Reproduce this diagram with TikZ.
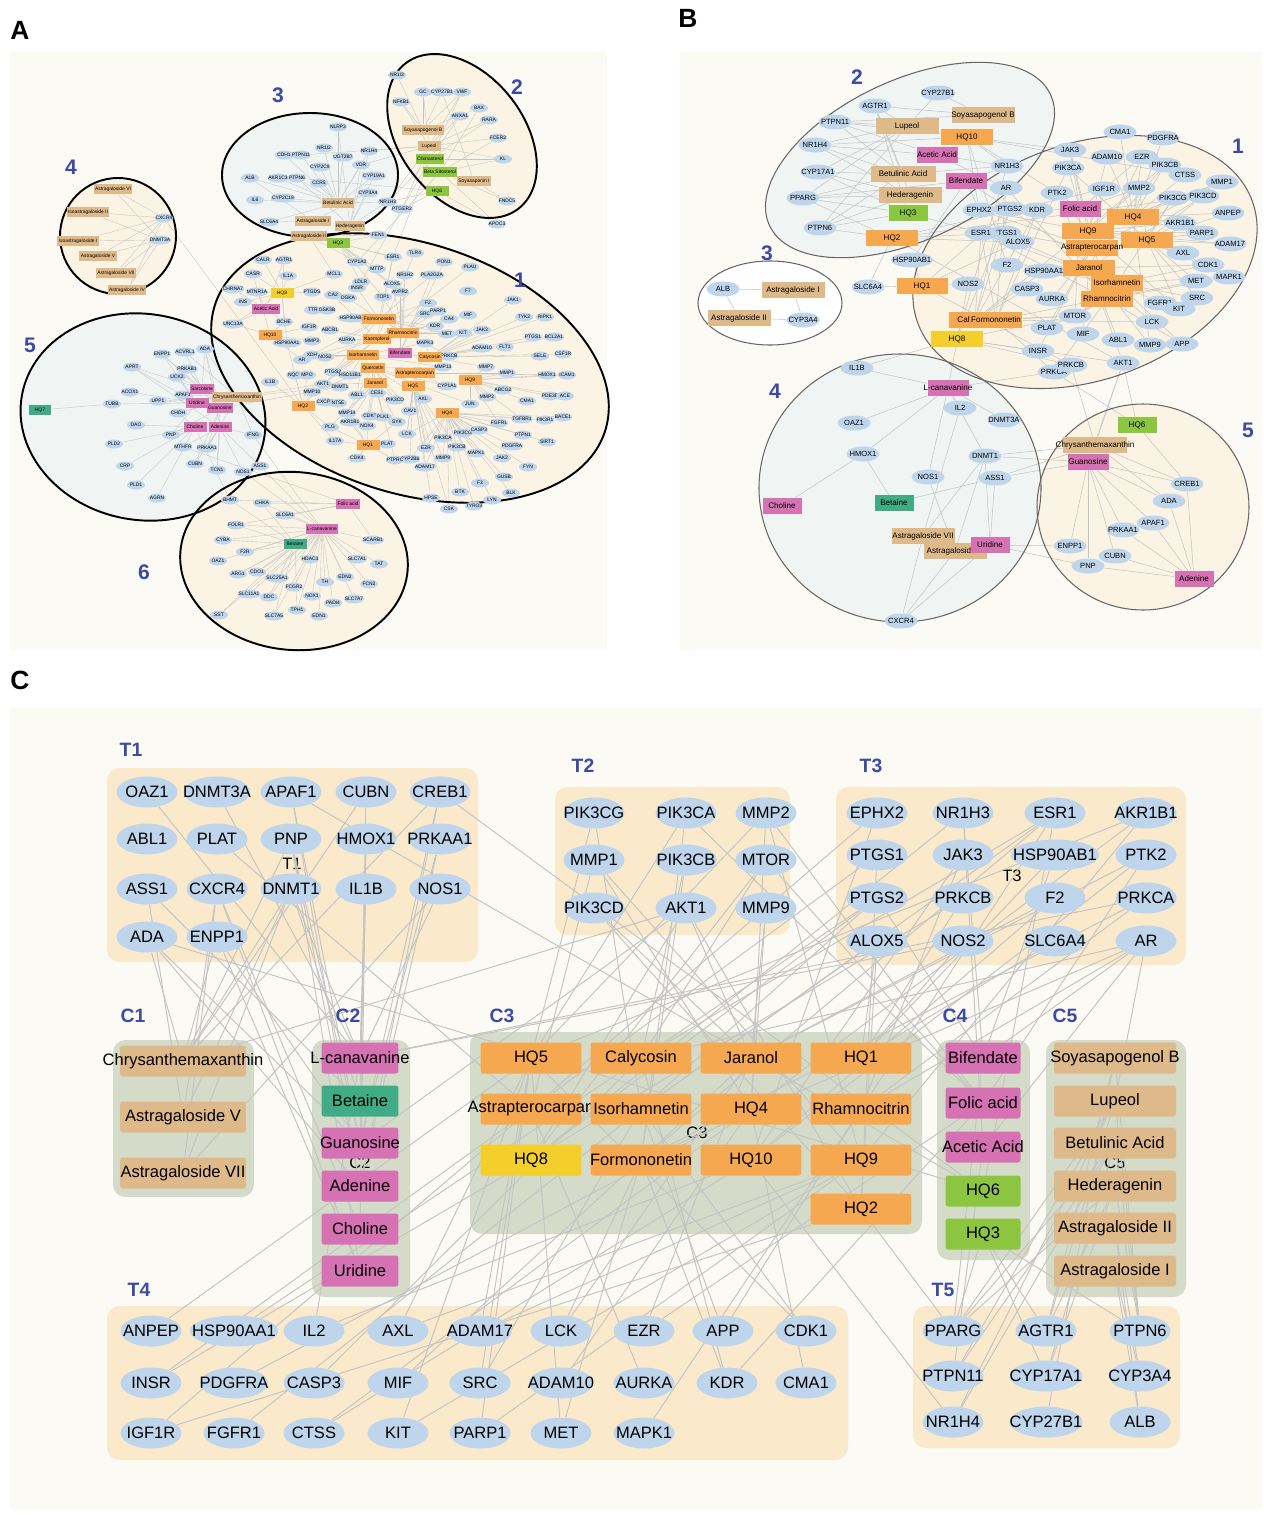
\documentclass[tikz,border=0pt]{standalone}
\usepackage{fontspec}
\setmainfont{Liberation Sans}
\usetikzlibrary{shapes.geometric}

\definecolor{tgblue}{HTML}{BFD5EB}
\definecolor{cpOrange}{HTML}{F5A84F}
\definecolor{cpTan}{HTML}{DEBA8B}
\definecolor{cpPink}{HTML}{D672B3}
\definecolor{cpGreen}{HTML}{8CC540}
\definecolor{cpTeal}{HTML}{3FAC86}
\definecolor{cpYellow}{HTML}{F4CE2B}
\definecolor{grpT}{HTML}{FAEACB}
\definecolor{grpC}{HTML}{D4DBC9}
\definecolor{panelbg}{HTML}{FCFAF4}
\definecolor{clCream}{HTML}{FBF4E4}
\definecolor{clBlue}{HTML}{F0F5F4}
\definecolor{lblblue}{HTML}{3B4BA3}
\definecolor{edgegray}{HTML}{C4C4C4}

\newcommand{\fntA}{\fontsize{2.8}{3}\selectfont}
\newcommand{\fntB}{\fontsize{4.3}{5}\selectfont}
\newcommand{\fntBc}{\fontsize{4.6}{5}\selectfont}
\newcommand{\fntC}{\fontsize{9.4}{11}\selectfont}

\pgfdeclarelayer{bg}
\pgfdeclarelayer{edges}
\pgfsetlayers{bg,edges,main}

\tikzset{
    tga/.style={ellipse, fill=tgblue, minimum width=0.36cm, minimum height=0.18cm, inner xsep=-1.2pt, inner ysep=0pt, font=\fntA},
    cpa/.style={rectangle, minimum width=0.46cm, minimum height=0.21cm, inner xsep=0.8pt, inner ysep=0pt, font=\fntA},
    tgb/.style={ellipse, fill=tgblue, minimum width=0.66cm, minimum height=0.3cm, inner xsep=-2.5pt, inner ysep=0pt, font=\fntB},
    cpb/.style={rectangle, minimum height=0.32cm, inner xsep=-4pt, inner ysep=0pt, font=\fntBc},
    tgc/.style={ellipse, fill=tgblue, minimum width=1.22cm, minimum height=0.62cm, inner xsep=-6pt, inner ysep=0pt, font=\fntC},
    cpc/.style={rectangle, rounded corners=1.5pt, minimum height=0.62cm, inner xsep=-10pt, inner ysep=0pt, font=\fntC},
    ea/.style={draw=edgegray, line width=0.2pt},
    eb/.style={draw=edgegray, line width=0.3pt},
    ec/.style={draw=edgegray, line width=0.55pt},
    clusA/.style={draw=black, line width=1.1pt},
    clusB/.style={draw=black!60, line width=0.6pt},
    grpbox/.style={rounded corners=0.25cm},
    grplbl/.style={text=lblblue, font=\bfseries\fontsize{11}{12}\selectfont},
    clbl/.style={text=lblblue, font=\bfseries\fontsize{12}{13}\selectfont},
    panel/.style={font=\bfseries\fontsize{15}{16}\selectfont},
    inlbl/.style={font=\fntC},
}

\begin{document}
\begin{tikzpicture}[x=0.02cm, y=-0.02cm]
    \useasboundingbox (0,0) rectangle (1264,1515);

    % backgrounds and cluster fills
    \begin{pgfonlayer}{bg}
        \fill[panelbg] (10,52) rectangle (607,650);
        \fill[panelbg] (680,52) rectangle (1262,650);
        \fill[panelbg] (10,708) rectangle (1262,1510);
        % A
        \fill[clCream, rotate around={-18:(410,368)}] (410,368) ellipse [x radius=205, y radius=125];
        \fill[clCream, rotate around={-52:(462,136)}] (462,136) ellipse [x radius=92, y radius=62];
        \fill[clBlue] (310,175) ellipse [x radius=88, y radius=62];
        \fill[clCream] (118,236) circle [radius=58];
        \fill[clBlue, rotate around={-10:(143,417)}] (143,417) ellipse [x radius=123, y radius=103];
        \fill[clCream, rotate around={-5:(294,561)}] (294,561) ellipse [x radius=114, y radius=89];
        % B
        \fill[clCream, rotate around={20:(1085,262)}] (1085,262) ellipse [x radius=178, y radius=118];
        \fill[clBlue, rotate around={25:(910,160)}] (910,160) ellipse [x radius=155, y radius=80];
        \fill[white] (770,303) ellipse [x radius=72, y radius=42];
        \fill[clBlue] (900,488) ellipse [x radius=141, y radius=134];
        \fill[clCream] (1143,507) ellipse [x radius=106, y radius=103];
        % C groups
        \fill[grpT, grpbox] (107,768) rectangle (478,962);
        \fill[grpT, grpbox] (555,787) rectangle (790,935);
        \fill[grpT, grpbox] (836,787) rectangle (1186,965);
        \fill[grpC, grpbox] (113,1040) rectangle (254,1197);
        \fill[grpC, grpbox] (312,1040) rectangle (410,1297);
        \fill[grpC, grpbox] (470,1032) rectangle (922,1234);
        \fill[grpC, grpbox] (937,1040) rectangle (1030,1260);
        \fill[grpC, grpbox] (1046,1040) rectangle (1186,1297);
        \fill[grpT, grpbox] (107,1306) rectangle (848,1460);
        \fill[grpT, grpbox] (913,1306) rectangle (1180,1448);
    \end{pgfonlayer}

    % panel letters
    \node[panel] (pA) at (20,30) {A};
    \node[panel] (pB) at (688,18) {B};
    \node[panel] (pC) at (20,680) {C};

    % ---------------- panel A ----------------
    \draw[clusA, rotate around={-18:(410,368)}] (410,368) ellipse [x radius=205, y radius=125];
    \draw[clusA, rotate around={-52:(462,136)}] (462,136) ellipse [x radius=92, y radius=62];
    \draw[clusA] (310,175) ellipse [x radius=88, y radius=62];
    \draw[clusA] (118,236) circle [radius=58];
    \draw[clusA, rotate around={-10:(143,417)}] (143,417) ellipse [x radius=123, y radius=103];
    \draw[clusA, rotate around={-5:(294,561)}] (294,561) ellipse [x radius=114, y radius=89];
    \foreach \nm/\px/\py in {1/520/280, 2/517/87, 3/278/95, 4/71/167, 5/30/345, 6/144/572}
        \node[clbl] (A-l\nm) at (\px,\py) {\nm};

    \foreach \nm/\px/\py in {CXCR4/164/218, DNMT3A/160/240,
        NLRP3/338/127, CDH1/284/155, PTPN11/301/155, NR1I2/324/148, UGT2B7/343/157, NR1H4/369/151,
        CYP2C9/320/167, VDR/361/165, ALB/250/178, AKR1C3/278/178, PTPN6/297/178, CCR5/319/183,
        CYP19A1/374/176, IL6/255/200, CYP2C19/283/198, CYP3A4/368/193, NR3C1/387/202, SLC6A4/269/222,
        NR1I3/397/75, GC/423/92, CYP27B1/442/92, VWF/462/92, NFKB1/401/102, BAX/479/108, ANXA1/460/116,
        RARA/489/120, FCER2/498/138, KL/503/159, NR1H3/388/202, PTGER2/402/209, FNDC5/507/201, APOC3/497/224,
        FEN1/378/235, CALR/263/260, AGTR1/284/260, CYP1A2/357/262, ESR1/393/257, CASR/253/274, MTTP/377/269,
        IL1A/288/276, MCL1/334/274, LDLR/361/282, ALOX5/392/284, CHRNA7/233/289, MTNR1A/257/292,
        PTGDS/312/292, CA2/333/295, INSR/357/288, DGKA/348/298, TOP1/383/297, AVPR2/400/292, INS/243/302,
        TTR/313/310, GSK3B/327/310, HSP90AB1/352/318, BCHE/284/322, UNC13A/233/324, IGF1R/309/327,
        ABCB1/330/330, HSP90AA1/287/343, MMP3/312/341, AURKA/347/340, AR/302/360, XDH/312/355, NOS2/325/357,
        TLR4/415/253, PON1/444/262, PLAU/470/267, NR1H2/405/275, PLA2G2A/432/275, F7/468/291, F2/428/303,
        JAK1/513/300, SRC/425/314, PARP1/438/311, CA4/449/319, MIF/468/315, TYK2/524/317, RIPK1/545/317,
        KDR/435/326, MET/447/334, KIT/463/333, JAK3/482/330, PTGS1/533/337, BCL2A1/554/337, MAPK3/425/343,
        ADAM10/482/348, FLT1/505/347, SELE/540/356, CSF1R/563/354, PRKCB/449/356, MMP7/486/367,
        MMP13/443/367, MMP1/507/373, HMOX1/547/375, ICAM1/567/375, CYP1A1/447/386, ABCG2/503/390,
        MMP2/487/397, CMA1/527/401, PDE3B/550/396, ACE/565/396, AXL/423/399, JUN/470/404, CAV1/410/411,
        FGFR1/499/423, TGFBR1/522/419, PIK3R1/545/420, BACE1/563/417, LCK/407/434, PIK3CG/463/433,
        CASP3/479/430, PIK3CA/443/438, PTPN1/523/435, SIRT1/547/442, EZR/426/448, PIK3CB/457/447,
        MAPK1/476/453, PDGFRA/512/446, CYP2B6/410/459, ADAM17/425/467, MMP9/443/458, JAK2/502/458,
        FYN/528/467, F3/480/483, GUSB/504/477, BTK/460/492, BLK/511/493, HPSE/431/498, LYN/492/500,
        CSK/449/509, TYRO3/474/506,
        NQO1/295/375, MPO/307/375, PTGS2/333/372, HSD11B1/350/375, IL1B/270/382, AKT1/323/384,
        DNMT1/340/387, MMP10/312/392, ABL1/357/395, CES1/377/393, PIK3CD/395/400, CXCR1/325/402,
        NT5E/338/403, MMP14/347/413, CDK2/370/416, PLK1/383/417, AKR1B1/350/422, NOX4/367/426, SYK/397/422,
        PLG/330/427, IL17A/335/441, PLAT/387/444, CDK4/357/458, PTPRC/395/460,
        ENPP1/162/354, ACVRL1/185/352, ADA/205/349, APRT/132/367, PRKAB1/187/369, UCK2/177/377,
        ACOX1/130/392, APAF1/183/395, TUBB/112/404, UPP1/158/401, CHDH/178/413, DAO/136/425, PNP/171/435,
        IFNG/253/435, PLD2/114/444, MTHFR/183/447, PRKAA1/207/448, CRP/125/466, CUBN/195/464, TCN1/217/470,
        NOS1/243/472, ASS1/260/466, PLD1/136/485, AGRN/157/498, BHMT/230/500,
        CHKA/262/503, SLC6A1/285/515, FOLR1/236/525, CYBA/223/540, SCARB1/373/540, F2R/245/552,
        OAZ1/218/561, HDAC3/310/559, SLC7A1/357/559, TAT/379/564, ARG1/238/574, CDO1/257/572,
        SLC25A1/277/578, TH/325/582, EDN2/345/577, FCN2/369/584, FCGR2/294/587, SLC11A1/249/594,
        DDC/269/597, NOX1/312/596, PADI4/333/603, SLC7A7/354/599, SST/219/615, SLC7A5/274/616,
        TPH1/297/610, EDN1/319/616}
        \node[tga] (A-\nm) at (\px,\py) {\nm};

    \foreach \nm/\px/\py/\lb/\col in {asvi/113/189/Astragaloside VI/cpTan, isoii/88/212/Isoastragaloside II/cpTan,
        isoi/78/241/Isoastragaloside I/cpTan, asv/98/256/Astragaloside V/cpTan, asvii/116/273/Astragaloside VII/cpTan,
        asiv/127/290/Astragaloside IV/cpTan, bta/338/203/Betulinic Acid/cpTan, asi/313/221/Astragaloside I/cpTan,
        hed/350/226/Hederagenin/cpTan, soyb/423/130/Soyasapogenol B/cpTan, lup/429/146/Lupeol/cpTan,
        cli/430/159/Clionasterol/cpGreen, bsit/440/172/Beta Sitosterol/cpGreen, soyi/474/181/Soyasaponin I/cpTan,
        hq6/437/191/HQ6/cpGreen, asii/309/236/Astragaloside II/cpTan, hq3/338/243/HQ3/cpGreen,
        hq8/282/293/HQ8/cpYellow, ace/266/309/Acetic Acid/cpPink, form/379/319/Formononetin/cpOrange,
        rham/403/333/Rhamnocitrin/cpOrange, hq10/270/335/HQ10/cpOrange, kae/377/339/Kaempferol/cpOrange,
        bif/400/353/Bifendate/cpPink, iso/363/355/Isorhamnetin/cpOrange, cal/430/357/Calycosin/cpOrange,
        que/373/368/Quercetin/cpOrange, astr/415/373/Astrapterocarpan/cpOrange, jar/375/383/Jaranol/cpOrange,
        hq9/470/380/HQ9/cpOrange, hq5/413/386/HQ5/cpOrange, hq4/447/413/HQ4/cpOrange, hq2/303/406/HQ2/cpOrange,
        hq1/368/445/HQ1/cpOrange, sar/202/389/Sarcosine/cpPink, chry/237/397/Chrysanthemaxanthin/cpTan,
        hq7/40/410/HQ7/cpTeal, uri/197/403/Uridine/cpPink, gua/220/408/Guanosine/cpPink, cho/195/427/Choline/cpPink,
        ade/220/427/Adenine/cpPink, fol/348/504/Folic acid/cpPink, lc/322/529/L-canavanine/cpPink,
        betn/295/544/Betaine/cpTeal}
        \node[cpa, fill=\col] (A-\nm) at (\px,\py) {\lb};

    \begin{pgfonlayer}{edges}
        \foreach \src/\tgts in {asvi/{CXCR4,DNMT3A}, isoii/{CXCR4,DNMT3A}, isoi/{CXCR4,DNMT3A},
            asv/{CXCR4,DNMT3A}, asvii/{CXCR4,DNMT3A}, asiv/{CXCR4,DNMT3A},
            bta/{NLRP3,CDH1,PTPN11,NR1I2,UGT2B7,NR1H4,CYP2C9,VDR,ALB,AKR1C3,PTPN6,CCR5,CYP19A1,IL6,CYP2C19,CYP3A4,NR3C1,SLC6A4},
            asi/{ALB,CYP3A4,SLC6A4}, hed/{NLRP3,PTPN6,CYP3A4,NR1H4,VDR,CYP19A1,NR3C1},
            soyb/{NR1I3,GC,CYP27B1,VWF,NFKB1,BAX},
            lup/{ANXA1,RARA,NFKB1,GC,FCER2,KL,NR1H3,PTGER2,VWF,VDR,NR1H4,PTPN11},
            cli/{VWF,ANXA1,RARA,KL,NR1H3,ESR1,LDLR}, bsit/{BAX,FCER2,KL,FNDC5,APOC3,CYP1A2},
            soyi/{CYP27B1,FNDC5}, hq6/{NR1H3,PTGER2,APOC3,PTPN6},
            hq8/{CALR,AGTR1,CASR,IL1A,CHRNA7,MTNR1A,INS,BCHE,UNC13A,PTGDS,MCL1,HSP90AA1},
            ace/{INS,UNC13A,MTNR1A,CHRNA7,BCHE,AGTR1}, hq10/{BCHE,IGF1R,HSP90AA1,MMP3,UNC13A,CASR,AR},
            asii/{CYP1A2,ESR1,FEN1,MCL1}, hq3/{FEN1,ESR1,MTTP,CYP1A2,LDLR,ALOX5,TOP1,AVPR2},
            form/{ESR1,INSR,DGKA,HSP90AB1,AURKA,PRKCB,AR,PTGS2,PLA2G2A,F2,SRC,KDR,MET,MAPK3},
            rham/{F2,SRC,PARP1,CA4,MIF,KIT,JAK3,ALOX5,TOP1,AVPR2,NR1H2},
            kae/{AURKA,ABCB1,XDH,NOS2,PTGS2,AKT1,ESR1,CA2,PLAU,TLR4}, bif/{PON1,PLA2G2A,NR1H2,AVPR2},
            iso/{XDH,NOS2,AKT1,PTGS2,HSD11B1,ABL1,MAPK3,PRKCB,MMP13},
            que/{HSD11B1,CES1,PIK3CD,CDK2,PLK1,MMP14,JUN,CAV1,AXL,CYP1A1,MMP13,NOX4,MMP10},
            cal/{PRKCB,MAPK3,MMP7,ADAM10,FLT1,JAK3,KIT,TYK2,RIPK1,JAK1,PTGS1,BCL2A1,SELE,CSF1R},
            astr/{MMP13,CYP1A1,AXL,CAV1,LCK,EZR,MMP1,HMOX1,ICAM1},
            jar/{AKT1,ABL1,CES1,PIK3CD,MMP14,CDK2,PLK1,AKR1B1,PLG,SYK,PTPRC},
            hq9/{MMP7,MMP1,ABCG2,MMP2,CMA1,PDE3B,ACE,HMOX1,ICAM1,JUN,TGFBR1,FGFR1},
            hq5/{AXL,CAV1,LCK,EZR,CYP2B6,ADAM17,PIK3CA,PIK3CB,MMP9,HPSE,CSK},
            hq4/{FGFR1,TGFBR1,PIK3R1,BACE1,PIK3CG,CASP3,PTPN1,SIRT1,PDGFRA,MAPK1,JAK2,FYN,F3,GUSB,BTK,BLK,LYN,TYRO3,CSK,PIK3CB,MMP9,ADAM17,EZR,LCK,CYP2B6},
            hq2/{NQO1,MPO,IL1B,AKT1,MMP10,CXCR1,NT5E,PLG,IL17A,CXCR4,HSP90AA1},
            hq1/{PLAT,CDK4,PTPRC,IL17A,NOX4,AKR1B1,PLG,SYK,MMP14},
            sar/{ACVRL1,ADA,PRKAB1,UCK2,APRT,ENPP1}, chry/{APAF1,UPP1,CHDH,ADA,ACVRL1,PRKAA1,IFNG,AKT1,DNMT1},
            hq7/{TUBB}, uri/{UPP1,UCK2,TUBB,ACOX1,APRT,ENPP1,PNP,CHDH},
            gua/{ADA,PNP,ENPP1,APAF1,PRKAB1,CUBN,PRKAA1,TCN1,DNMT1},
            cho/{CHDH,DAO,PLD2,PLD1,PNP,CRP,BHMT,AGRN},
            ade/{ADA,APRT,PNP,MTHFR,PRKAA1,CUBN,TCN1,IFNG,ASS1,NOS1},
            fol/{CHKA,SLC6A1,FOLR1,BHMT,SCARB1,MTHFR},
            lc/{CHKA,SLC6A1,FOLR1,CYBA,SCARB1,F2R,OAZ1,HDAC3,SLC7A1,TAT,ARG1,CDO1,SLC25A1,TH,EDN2,FCN2,FCGR2,SLC11A1,DDC,NOX1,PADI4,SLC7A7,SST,SLC7A5,TPH1,EDN1,ASS1,NOS1,IFNG},
            betn/{BHMT,CHKA,FOLR1,CYBA,F2R,ARG1,DDC,SST,SLC7A5,TPH1,CDO1}}
            {\foreach \tg in \tgts {\draw[ea] (A-\src) -- (A-\tg);}}
    \end{pgfonlayer}

    % ---------------- panel B ----------------
    \draw[clusB, rotate around={20:(1085,262)}] (1085,262) ellipse [x radius=178, y radius=118];
    \draw[clusB, rotate around={25:(910,160)}] (910,160) ellipse [x radius=155, y radius=80];
    \draw[clusB] (770,303) ellipse [x radius=72, y radius=42];
    \draw[clusB] (900,488) ellipse [x radius=141, y radius=134];
    \draw[clusB] (1143,507) ellipse [x radius=106, y radius=103];
    \foreach \nm/\px/\py in {1/1238/146, 2/857/77, 3/767/253, 4/775/391, 5/1248/430}
        \node[clbl] (B-l\nm) at (\px,\py) {\nm};

    \foreach \nm/\px/\py in {CYP27B1/938/93, AGTR1/875/106, PTPN11/835/122, NR1H4/815/145, CYP17A1/818/172,
        PPARG/803/198, PTPN6/820/228, HSP90AB1/912/260, SLC6A4/868/287, NOS2/968/284, ALB/723/289, CYP3A4/803/320,
        CMA1/1120/132, PDGFRA/1163/138, JAK3/1070/150, ADAM10/1107/157, EZR/1142/157, PIK3CB/1165/165,
        PIK3CA/1068/168, NR1H3/1007/166, CTSS/1185/175, MMP1/1222/182, AR/1006/188, PTK2/1057/193,
        IGF1R/1104/189, MMP2/1139/188, PIK3CG/1173/198, PIK3CD/1203/196, PTGS2/1010/209, EPHX2/979/210,
        KDR/1037/210, ANPEP/1228/213, AKR1B1/1180/223, PTGS1/1005/233, ESR1/981/233, ALOX5/1018/242,
        PARP1/1202/233, ADAM17/1230/244, AXL/1183/253, F2/1007/265, HSP90AA1/1044/271, CDK1/1208/265,
        MAPK1/1229/277, MET/1196/281, CASP3/1027/289, AURKA/1052/299, FGFR1/1160/303, SRC/1197/298,
        KIT/1179/309, MTOR/1075/316, LCK/1152/322, PLAT/1047/328, MIF/1083/334, ABL1/1118/340, MMP9/1150/345,
        APP/1182/344, INSR/1038/351, PRKCA/1054/372, PRKCB/1071/365, AKT1/1123/363,
        IL1B/857/368, IL2/960/408, OAZ1/854/423, DNMT3A/1004/420, HMOX1/863/454, DNMT1/985/456,
        NOS1/928/477, ASS1/995/478, CREB1/1187/484, ADA/1169/501, APAF1/1153/523, PRKAA1/1123/530,
        ENPP1/1070/546, CUBN/1115/556, PNP/1088/566, CXCR4/901/621}
        \node[tgb] (B-\nm) at (\px,\py) {\nm};

    \foreach \nm/\px/\py/\lb/\col/\w in {lup/907/126/Lupeol/cpTan/1.26, soyb/983/115/Soyasapogenol B/cpTan/1.26,
        hq10/967/137/HQ10/cpOrange/1.04, ace/937/155/Acetic Acid/cpPink/0.82, bta/903/174/Betulinic Acid/cpTan/1.3,
        bif/966/181/Bifendate/cpPink/0.82, hed/910/195/Hederagenin/cpTan/1.26, hq3/908/213/HQ3/cpGreen/0.78,
        hq2/892/238/HQ2/cpOrange/1.04, hq1/922/286/HQ1/cpOrange/1.02, asi/793/290/Astragaloside I/cpTan/1.26,
        asii/739/318/Astragaloside II/cpTan/1.26, cal/975/320/Calycosin/cpOrange/1.04,
        form/996/320/Formononetin/cpOrange/1.04, hq8/957/339/HQ8/cpYellow/1.04, fol/1080/209/Folic acid/cpPink/0.82,
        hq4/1133/217/HQ4/cpOrange/1.04, hq9/1088/231/HQ9/cpOrange/1.04, hq5/1147/240/HQ5/cpOrange/1.04,
        astr/1092/248/Astrapterocarpan/cpOrange/1.04, jar/1089/268/Jaranol/cpOrange/1.04,
        iso/1117/283/Isorhamnetin/cpOrange/1.04, rham/1107/299/Rhamnocitrin/cpOrange/1.04,
        lc/948/388/L-canavanine/cpPink/0.82, hq6/1137/425/HQ6/cpGreen/0.78,
        chry/1095/445/Chrysanthemaxanthin/cpTan/1.26, gua/1088/462/Guanosine/cpPink/0.82,
        betn/894/503/Betaine/cpTeal/0.78, cho/782/506/Choline/cpPink/0.78,
        asvii/923/536/Astragaloside VII/cpTan/1.26, asv/955/551/Astragaloside V/cpTan/1.26,
        uri/990/545/Uridine/cpPink/0.78, ade/1194/579/Adenine/cpPink/0.78}
        \node[cpb, fill=\col, minimum width=\w cm] (B-\nm) at (\px,\py) {\lb};

    \begin{pgfonlayer}{edges}
        \foreach \src/\tgts in {lup/{PTPN11,AGTR1,NR1H4,CYP17A1,PPARG,PTPN6,CYP27B1},
            bta/{PTPN11,NR1H4,CYP17A1,PPARG,PTPN6,AGTR1,NR1H3}, hed/{CYP17A1,PPARG,PTPN6,NR1H4,AGTR1},
            soyb/{CYP27B1,AGTR1,PTPN11}, hq10/{PTPN11,NR1H4,PTK2,JAK3,F2,EPHX2,NR1H3,CTSS},
            ace/{PTPN11,NR1H3,AR,NR1H4}, bif/{NR1H3,AR,PTGS2,HSP90AB1,PPARG,EPHX2},
            hq3/{PPARG,PTPN6,AGTR1,CYP17A1,ESR1}, hq2/{PTPN6,PPARG,AKT1,PIK3CD,ALOX5,PTGS1,IGF1R,SLC6A4},
            asi/{ALB,CYP3A4}, asii/{ALB,CYP3A4}, hq1/{SLC6A4,HSP90AB1,NOS2,ALOX5,PRKCB,PTGS2},
            cal/{ESR1,AR,PTGS2,HSP90AA1,CASP3,KDR,PIK3CB,MTOR}, form/{PIK3CA,ESR1,AR,PRKCA,KDR,MET,LCK,MTOR},
            hq8/{AKT1,MTOR,PTGS2,NR1H3,INSR,PRKCB,IL1B}, fol/{PTK2,PIK3CA,MTOR,KDR,EZR,MMP2,JAK3,IGF1R},
            hq4/{MMP2,MMP1,CTSS,AKR1B1,PDGFRA,CMA1,ADAM10,MMP9,PIK3CB,PIK3CG,EZR,ANPEP},
            hq9/{MMP1,MMP2,AXL,ADAM17,KIT,PARP1,AKR1B1,PTK2,IGF1R,JAK3,ADAM10,EPHX2},
            hq5/{PIK3CG,PIK3CA,MMP2,AKR1B1,ANPEP,ADAM17,AXL,CDK1,PARP1,KIT,SRC,MET,PIK3CD,MAPK1},
            astr/{MMP1,PTGS1,EPHX2,IGF1R,AURKA,PLAT,INSR,PIK3CB},
            jar/{PIK3CD,AKT1,MMP9,PTK2,F2,EZR,MIF,LCK,ABL1,CDK1},
            iso/{PIK3CG,ALOX5,ESR1,PTGS2,CDK1,APP,FGFR1,SRC,MAPK1,HSP90AA1},
            rham/{AR,ESR1,PRKCA,JAK3,APP,MAPK1,MTOR,PLAT},
            lc/{IL1B,OAZ1,HMOX1,IL2,DNMT3A,DNMT1,NOS1,NOS2,PRKCA}, betn/{HMOX1,ASS1}, cho/{HMOX1},
            asvii/{CXCR4,DNMT1,IL2}, asv/{CXCR4,DNMT1,NOS1}, uri/{CXCR4,PNP,ENPP1,DNMT1,ASS1},
            chry/{DNMT1,ASS1,CREB1,ADA,AKT1,PRKCB}, gua/{ADA,PNP,ENPP1,CUBN,APAF1,CREB1,PRKAA1,AKT1,DNMT1,ASS1},
            ade/{ADA,PNP,APAF1,CREB1,PRKAA1,CUBN}, hq6/{AKT1,CREB1,PRKCA}}
            {\foreach \tg in \tgts {\draw[eb] (B-\src) -- (B-\tg);}}
    \end{pgfonlayer}

    % ---------------- panel C ----------------
    \foreach \nm/\px/\py in {T1/131/750, T2/583/766, T3/871/766, C1/133/1016, C2/348/1016, C3/502/1016,
        C4/955/1016, C5/1065/1016, T4/139/1290, T5/943/1290}
        \node[grplbl] (C-l\nm) at (\px,\py) {\nm};

    \foreach \nm/\px/\py in {OAZ1/147/792, DNMT3A/217/792, APAF1/291/792, CUBN/366/792, CREB1/440/792,
        ABL1/147/839, PLAT/217/839, PNP/291/839, HMOX1/366/839, PRKAA1/440/839,
        ASS1/147/889, CXCR4/217/889, DNMT1/291/889, IL1B/366/889, NOS1/440/889, ADA/147/937, ENPP1/217/937,
        PIK3CG/594/813, PIK3CA/686/813, MMP2/766/813, MMP1/594/860, PIK3CB/686/860, MTOR/766/860,
        PIK3CD/594/908, AKT1/686/908, MMP9/766/908,
        EPHX2/877/813, NR1H3/963/813, ESR1/1055/813, AKR1B1/1146/813, PTGS1/877/855, JAK3/963/855,
        HSP90AB1/1055/855, PTK2/1146/855, PTGS2/877/898, PRKCB/963/898, F2/1055/898, PRKCA/1146/898,
        ALOX5/877/941, NOS2/963/941, SLC6A4/1055/941, AR/1146/941,
        ANPEP/151/1331, HSP90AA1/234/1331, IL2/314/1331, AXL/398/1331, ADAM17/480/1331, LCK/561/1331,
        EZR/644/1331, APP/723/1331, CDK1/806/1331, INSR/151/1383, PDGFRA/234/1383, CASP3/314/1383,
        MIF/398/1383, SRC/480/1383, ADAM10/561/1383, AURKA/644/1383, KDR/727/1383, CMA1/806/1383,
        IGF1R/151/1433, FGFR1/234/1433, CTSS/314/1433, KIT/398/1433, PARP1/480/1433, MET/561/1433,
        MAPK1/644/1433,
        PPARG/953/1331, AGTR1/1046/1331, PTPN6/1140/1331, PTPN11/953/1376, CYP17A1/1046/1376,
        CYP3A4/1140/1376, NR1H4/953/1422, CYP27B1/1046/1422, ALB/1140/1422}
        \node[tgc] (C-\nm) at (\px,\py) {\nm};

    \foreach \nm/\px/\py/\lb/\col/\w in {chry/183/1061/Chrysanthemaxanthin/cpTan/2.52,
        asv/183/1117/Astragaloside V/cpTan/2.52, asvii/183/1173/Astragaloside VII/cpTan/2.52,
        lc/360/1058/L-canavanine/cpPink/1.54, betn/360/1101/Betaine/cpTeal/1.54, gua/360/1143/Guanosine/cpPink/1.54,
        ade/360/1186/Adenine/cpPink/1.54, cho/360/1229/Choline/cpPink/1.54, uri/360/1271/Uridine/cpPink/1.54,
        hq5/531/1058/HQ5/cpOrange/2.02, cal/641/1058/Calycosin/cpOrange/2.02, jar/751/1058/Jaranol/cpOrange/2.02,
        hq1/861/1058/HQ1/cpOrange/2.02, astr/531/1109/Astrapterocarpan/cpOrange/2.02,
        iso/641/1109/Isorhamnetin/cpOrange/2.02, hq4/751/1109/HQ4/cpOrange/2.02,
        rham/861/1109/Rhamnocitrin/cpOrange/2.02, hq8/531/1160/HQ8/cpYellow/2.02,
        form/641/1160/Formononetin/cpOrange/2.02, hq10/751/1160/HQ10/cpOrange/2.02, hq9/861/1160/HQ9/cpOrange/2.02,
        hq2/861/1209/HQ2/cpOrange/2.02,
        bif/983/1058/Bifendate/cpPink/1.5, fol/983/1103/Folic acid/cpPink/1.5, ace/983/1147/Acetic Acid/cpPink/1.5,
        hq6/983/1191/HQ6/cpGreen/1.5, hq3/983/1234/HQ3/cpGreen/1.5,
        soyb/1115/1058/Soyasapogenol B/cpTan/2.44, lup/1115/1101/Lupeol/cpTan/2.44,
        bta/1115/1143/Betulinic Acid/cpTan/2.44, hed/1115/1186/Hederagenin/cpTan/2.44,
        asii/1115/1228/Astragaloside II/cpTan/2.44, asi/1115/1271/Astragaloside I/cpTan/2.44}
        \node[cpc, fill=\col, minimum width=\w cm] (C-\nm) at (\px,\py) {\lb};

    \begin{pgfonlayer}{edges}
        \foreach \nm/\px/\py in {T1/292/864, T3/1012/876, C2/360/1163, C3/697/1133, C5/1115/1163}
            \node[inlbl] (C-i\nm) at (\px,\py) {\nm};
        \foreach \src/\tgts in {chry/{ADA,ENPP1,PNP,CUBN,CREB1,AKT1,DNMT1}, asv/{CXCR4,DNMT1,ASS1},
            asvii/{CXCR4,DNMT1,NOS1}, lc/{IL1B,OAZ1,HMOX1,IL2,DNMT3A,DNMT1,NOS1,NOS2,PRKCA},
            betn/{DNMT1,HMOX1,ASS1}, gua/{ADA,PNP,ENPP1,CUBN,APAF1,CREB1,PRKAA1,AKT1},
            ade/{ADA,PNP,APAF1,CREB1,PRKAA1}, cho/{HMOX1,CXCR4}, uri/{CXCR4,PNP,ENPP1},
            hq5/{PIK3CG,PIK3CA,MMP2,AKR1B1,ANPEP,ADAM17,AXL,CDK1,PARP1,KIT,SRC,MET},
            cal/{PIK3CB,MTOR,PTGS2,ESR1,AR,HSP90AA1,CASP3,KDR}, jar/{PIK3CD,AKT1,MMP9,PTK2,F2,EZR,MIF,LCK},
            hq1/{NOS2,ALOX5,HSP90AB1,SLC6A4,PRKCB}, astr/{MMP1,PTGS1,EPHX2,IGF1R,AURKA,PLAT,INSR},
            iso/{PIK3CG,ALOX5,ESR1,PTGS2,CDK1,APP,FGFR1,SRC}, hq4/{MMP2,MMP9,MMP1,CTSS,AKR1B1,PDGFRA,CMA1,ADAM10},
            rham/{AR,ESR1,PRKCA,JAK3,APP,MAPK1}, hq8/{AKT1,MTOR,PTGS2,NR1H3,INSR,PRKCB},
            form/{PIK3CA,PIK3CB,ESR1,AR,PRKCA,KDR,MET,LCK}, hq10/{PTK2,JAK3,F2,EPHX2,NR1H4,IL2,CTSS},
            hq9/{MMP1,MMP2,AXL,ADAM17,KIT,PARP1,AKR1B1}, hq2/{PIK3CD,AKT1,ALOX5,PTGS1,PPARG,IGF1R},
            bif/{NR1H3,AR,PTGS2,HSP90AB1,PPARG}, fol/{PTK2,PIK3CA,MTOR,KDR,EZR,MMP2}, ace/{NR1H3,PTPN11,AR},
            hq6/{CREB1,ADA,APAF1,ESR1}, hq3/{PTPN6,PPARG,AGTR1,CYP17A1}, soyb/{CYP27B1,PTPN6,AGTR1},
            lup/{PTPN11,PTPN6,NR1H4,AGTR1,PPARG,AR}, bta/{PPARG,CYP17A1,NR1H4,PTPN11,PTPN6},
            hed/{CYP17A1,PPARG,AGTR1,PTPN6}, asii/{CYP3A4,ALB}, asi/{ALB,CYP3A4}}
            {\foreach \tg in \tgts {\draw[ec] (C-\src) -- (C-\tg);}}
    \end{pgfonlayer}
\end{tikzpicture}
\end{document}
